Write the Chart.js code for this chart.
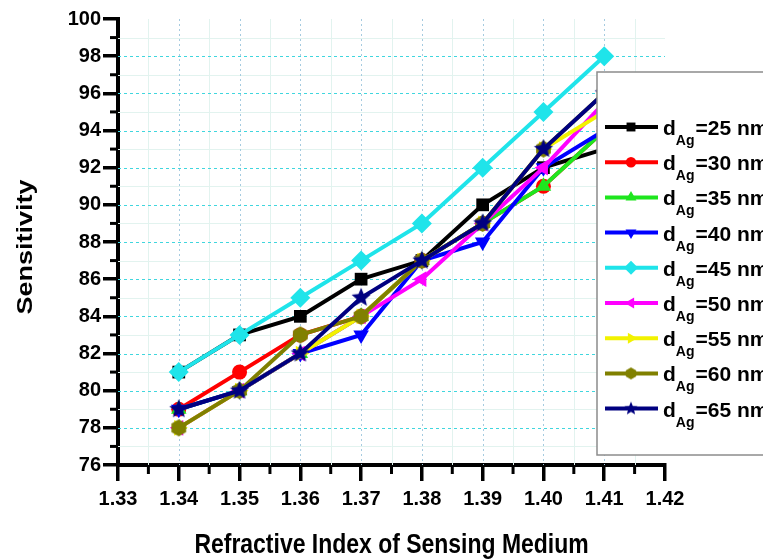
<!DOCTYPE html>
<html>
<head>
<meta charset="utf-8">
<script src="https://cdn.jsdelivr.net/npm/chart.js@4.4.1/dist/chart.umd.min.js"></script>
<style>
  html, body { margin: 0; padding: 0; background: #fff; }
</style>
</head>
<body>
<canvas id="chartSens" width="763" height="559"></canvas>
<script>
// values
const refIndex = [1.34, 1.35, 1.36, 1.37, 1.38, 1.39, 1.40, 1.41];
const thickness = ["25", "30", "35", "40", "45", "50", "55", "60", "65"];
const sens25 = [81, 83, 84, 86, 87, 90, 92, 93];
const sens30 = [79, 81, 83, 84, 87, 89, 91, 94];
const sens35 = [79, 80, 82, 84, 87, 89, 91, 94];
const sens40 = [79, 80, 82, 83, 87, 88, 92, 94];
const sens45 = [81, 83, 85, 87, 89, 92, 95, 98];
const sens50 = [78, 80, 82, 84, 86, 89, 92, 95.5];
const sens55 = [78, 80, 82, 84, 87, 89, 93, 95];
const sens60 = [78, 80, 83, 84, 87, 89, 93, 96];
const sens65 = [79, 80, 82, 85, 87, 89, 93, 96];
const xTicks = [1.33, 1.34, 1.35, 1.36, 1.37, 1.38, 1.39, 1.40, 1.41, 1.42];
const yTicks = [76, 78, 80, 82, 84, 86, 88, 90, 92, 94, 96, 98, 100];
const xTitle = 'Refractive Index of Sensing Medium';
const yTitle = 'Sensitivity';

const series = [sens25, sens30, sens35, sens40, sens45, sens50, sens55, sens60, sens65];
const colors = ['#000000', '#ff0000', '#1ee61e', '#0000ff', '#1fe4ea', '#ff00ff', '#f2f200', '#808000', '#000080'];

const FONT = '"Liberation Sans", Arial, sans-serif';

// hexagon / filled star markers (not built into chart.js)
function shape(kind, r, color) {
  const c = document.createElement('canvas');
  const s = Math.ceil(r * 2 + 2);
  c.width = s; c.height = s;
  const g = c.getContext('2d');
  g.fillStyle = color;
  g.beginPath();
  const n = kind === 'star' ? 10 : 6;
  for (let k = 0; k < n; k++) {
    const a = -Math.PI / 2 + k * 2 * Math.PI / n;
    const rr = kind === 'star' && k % 2 ? r * 0.45 : r;
    g.lineTo(s / 2 + rr * Math.cos(a), s / 2 + rr * Math.sin(a));
  }
  g.closePath();
  g.fill();
  return c;
}

const styles = ['rect', 'circle', 'triangle', 'triangle', 'rectRot', 'triangle', 'triangle',
  shape('hex', 8.5, colors[7]), shape('star', 10, colors[8])];
const legendStyles = ['rect', 'circle', 'triangle', 'triangle', 'rectRot', 'triangle', 'triangle',
  shape('hex', 6, colors[7]), shape('star', 7, colors[8])];
const rotations = [0, 0, 0, 180, 0, -90, 90, 0, 0];
const radii = [9, 7.5, 9, 9, 10, 9, 9, 8.5, 10];

const datasets = series.map((vals, i) => ({
  label: 'd_Ag=' + thickness[i] + ' nm',
  data: vals.map((v, j) => ({x: refIndex[j], y: v})),
  borderColor: colors[i],
  backgroundColor: colors[i],
  borderWidth: 4,
  pointStyle: styles[i],
  rotation: rotations[i],
  pointRadius: radii[i],
  pointBorderWidth: 0,
  tension: 0,
  fill: false,
  order: series.length - i
}));

const mids = arr => arr.slice(0, -1).map((v, i) => (v + arr[i + 1]) / 2);

const originLook = {
  id: 'originLook',
  beforeDatasetsDraw(chart) {
    const {ctx, chartArea: a, scales: {x, y}} = chart;
    ctx.save();
    ctx.lineWidth = 1;
    ctx.strokeStyle = '#e2f3ef';
    mids(xTicks).forEach(v => {
      const px = Math.round(x.getPixelForValue(v)) + 0.5;
      ctx.beginPath(); ctx.moveTo(px, a.top); ctx.lineTo(px, a.bottom); ctx.stroke();
    });
    mids(yTicks).forEach(v => {
      const py = Math.round(y.getPixelForValue(v)) + 0.5;
      ctx.beginPath(); ctx.moveTo(a.left, py); ctx.lineTo(a.right, py); ctx.stroke();
    });
    ctx.setLineDash([2, 3]);
    ctx.strokeStyle = '#a6cbe0';
    xTicks.slice(1, -1).forEach(v => {
      const px = Math.round(x.getPixelForValue(v)) + 0.5;
      ctx.beginPath(); ctx.moveTo(px, a.top); ctx.lineTo(px, a.bottom); ctx.stroke();
    });
    ctx.setLineDash([3, 3]);
    ctx.strokeStyle = '#40d6de';
    yTicks.slice(1, -1).forEach(v => {
      const py = Math.round(y.getPixelForValue(v)) + 0.5;
      ctx.beginPath(); ctx.moveTo(a.left, py); ctx.lineTo(a.right, py); ctx.stroke();
    });
    ctx.restore();
  },
  afterDraw(chart) {
    const {ctx, chartArea: a, scales: {x, y}} = chart;
    ctx.save();
    // minor ticks
    ctx.strokeStyle = '#000';
    ctx.lineWidth = 3;
    mids(xTicks).forEach(v => {
      const px = x.getPixelForValue(v);
      ctx.beginPath(); ctx.moveTo(px, a.bottom); ctx.lineTo(px, a.bottom + 9); ctx.stroke();
    });
    mids(yTicks).forEach(v => {
      const py = y.getPixelForValue(v);
      ctx.beginPath(); ctx.moveTo(a.left, py); ctx.lineTo(a.left - 8, py); ctx.stroke();
    });

    // axis titles, set in a narrow face like the original
    ctx.fillStyle = '#000';
    ctx.font = 'bold 28px ' + FONT;
    ctx.textAlign = 'center';
    ctx.textBaseline = 'alphabetic';
    ctx.save();
    ctx.translate((a.left + a.right) / 2, 553);
    ctx.scale(0.82, 1);
    ctx.fillText(xTitle, 0, 0);
    ctx.restore();
    ctx.save();
    ctx.font = 'bold 27px ' + FONT;
    ctx.translate(32, 247);
    ctx.scale(0.8, 1);
    ctx.rotate(-Math.PI / 2);
    ctx.fillText(yTitle, 0, 0);
    ctx.restore();

    // legend box with subscript labels
    const bx = 597, by = 72;
    ctx.fillStyle = '#fff';
    ctx.fillRect(bx, by, 200, 383);
    ctx.strokeStyle = '#8c8c8c';
    ctx.lineWidth = 1.5;
    ctx.strokeRect(bx, by, 200, 383);
    thickness.forEach((t, i) => {
      const ry = 127 + i * 35.2;
      ctx.strokeStyle = colors[i];
      ctx.lineWidth = 4;
      ctx.beginPath(); ctx.moveTo(605, ry); ctx.lineTo(658, ry); ctx.stroke();
      ctx.fillStyle = colors[i];
      Chart.helpers.drawPoint(ctx, {pointStyle: legendStyles[i], rotation: rotations[i],
        radius: radii[i] * 0.7, borderWidth: 0}, 631, ry);
      ctx.fillStyle = '#000';
      ctx.textBaseline = 'alphabetic';
      ctx.textAlign = 'left';
      ctx.font = 'bold 21px ' + FONT;
      ctx.fillText('d', 663, ry + 8);
      let tx = 663 + ctx.measureText('d').width;
      ctx.font = 'bold 14px ' + FONT;
      ctx.fillText('Ag', tx, ry + 18);
      tx += ctx.measureText('Ag').width + 1;
      ctx.font = 'bold 21px ' + FONT;
      ctx.fillText('=' + t + ' nm', tx, ry + 8);
    });
    ctx.restore();
  }
};

const chartSens = new Chart(document.getElementById('chartSens'), {
  type: 'line',
  data: {datasets: datasets},
  plugins: [originLook],
  options: {
    responsive: false,
    animation: false,
    devicePixelRatio: 1,
    layout: {padding: {top: 19, right: 98, left: 0, bottom: 0}},
    plugins: {legend: {display: false}, tooltip: {enabled: false}},
    scales: {
      x: {
        type: 'linear',
        min: 1.33, max: 1.42,
        afterBuildTicks: s => { s.ticks = xTicks.map(v => ({value: v})); },
        afterFit: s => { s.height = 94; },
        ticks: {
          callback: v => v.toFixed(2),
          color: '#000',
          padding: 6,
          maxRotation: 0,
          font: {family: FONT, size: 20, weight: 'bold'}
        },
        grid: {drawOnChartArea: false, tickLength: 16, tickWidth: 3.5, tickColor: '#000', lineWidth: 3.5},
        border: {display: true, width: 4, color: '#000'}
      },
      y: {
        min: 76, max: 100,
        afterBuildTicks: s => { s.ticks = yTicks.map(v => ({value: v})); },
        afterFit: s => { s.width = 118; },
        ticks: {
          color: '#000',
          padding: 2,
          font: {family: FONT, size: 20, weight: 'bold'}
        },
        grid: {drawOnChartArea: false, tickLength: 15, tickWidth: 3.5, tickColor: '#000', lineWidth: 3.5},
        border: {display: true, width: 4, color: '#000'}
      }
    }
  }
});
</script>
</body>
</html>
